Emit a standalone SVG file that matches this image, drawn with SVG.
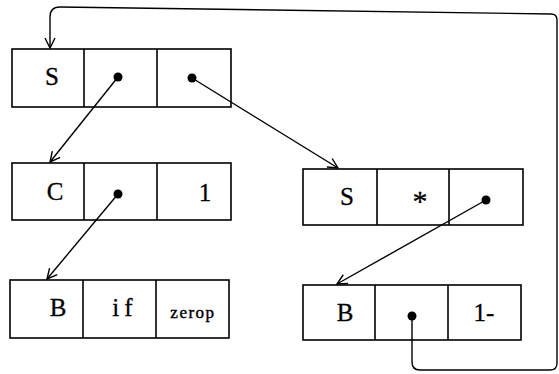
<svg xmlns="http://www.w3.org/2000/svg" width="559" height="374" viewBox="0 0 559 374">
<style>
.box{fill:none;stroke:#000;stroke-width:1.6}
.ln{fill:none;stroke:#000;stroke-width:1.4}
.t{font-family:"Liberation Serif",serif;font-size:25px;fill:#000;text-anchor:middle;stroke:#000;stroke-width:0.3}
.s{font-family:"Liberation Serif",serif;font-size:17px;fill:#000;text-anchor:middle;letter-spacing:1.5px;stroke:#000;stroke-width:0.4}
.dot{fill:#000}
</style>
<defs>
<marker id="ah" viewBox="0 0 12 12" refX="11" refY="6" markerWidth="12" markerHeight="12" markerUnits="userSpaceOnUse" orient="auto">
<polyline points="1,1 11,6 1,11" fill="none" stroke="#000" stroke-width="1.4"/>
</marker>
</defs>
<rect width="559" height="374" fill="#fff"/>
<g id="n1">
<rect class="box" x="12" y="49" width="219" height="58"/>
<line class="box" x1="84" y1="49" x2="84" y2="107"/>
<line class="box" x1="157" y1="49" x2="157" y2="107"/>
<text class="t" x="52" y="85">S</text>
<circle class="dot" cx="118" cy="77" r="4.5"/>
<circle class="dot" cx="192" cy="78" r="4.5"/>
</g>
<g id="n2">
<rect class="box" x="12" y="163" width="219" height="57"/>
<line class="box" x1="84" y1="163" x2="84" y2="220"/>
<line class="box" x1="157" y1="163" x2="157" y2="220"/>
<text class="t" x="55" y="200">C</text>
<circle class="dot" cx="118" cy="194" r="4.5"/>
<text class="t" x="205" y="201">1</text>
</g>
<g id="n3">
<rect class="box" x="303" y="169" width="220" height="56"/>
<line class="box" x1="377" y1="169" x2="377" y2="225"/>
<line class="box" x1="449" y1="169" x2="449" y2="225"/>
<text class="t" x="347" y="205">S</text>
<text class="t" x="420" y="211" style="font-size:30px">*</text>
<circle class="dot" cx="486" cy="200" r="4.5"/>
</g>
<g id="n4">
<rect class="box" x="10" y="280" width="219" height="58"/>
<line class="box" x1="83" y1="280" x2="83" y2="338"/>
<line class="box" x1="156" y1="280" x2="156" y2="338"/>
<text class="t" x="58" y="316">B</text>
<text class="t" x="125" y="316" style="letter-spacing:5px">if</text>
<text class="s" x="193" y="318">zerop</text>
</g>
<g id="n5">
<rect class="box" x="303" y="285" width="218" height="55"/>
<line class="box" x1="375" y1="285" x2="375" y2="340"/>
<line class="box" x1="448" y1="285" x2="448" y2="340"/>
<text class="t" x="345" y="321">B</text>
<circle class="dot" cx="412" cy="316" r="4.5"/>
<text class="t" x="484" y="321">1-</text>
</g>
<g id="connectors">
<line class="ln" x1="118" y1="77" x2="50" y2="162" marker-end="url(#ah)"/>
<line class="ln" x1="192" y1="78" x2="338" y2="168" marker-end="url(#ah)"/>
<line class="ln" x1="118" y1="194" x2="47" y2="279" marker-end="url(#ah)"/>
<line class="ln" x1="486" y1="200" x2="337" y2="284" marker-end="url(#ah)"/>
<path class="ln" d="M412,316 V362 Q412,370 420,370 H550 Q557,370 557,363 V20 Q557,14 551,14 L60,7 Q50,7 50,17 V48" marker-end="url(#ah)"/>
</g>
</svg>
